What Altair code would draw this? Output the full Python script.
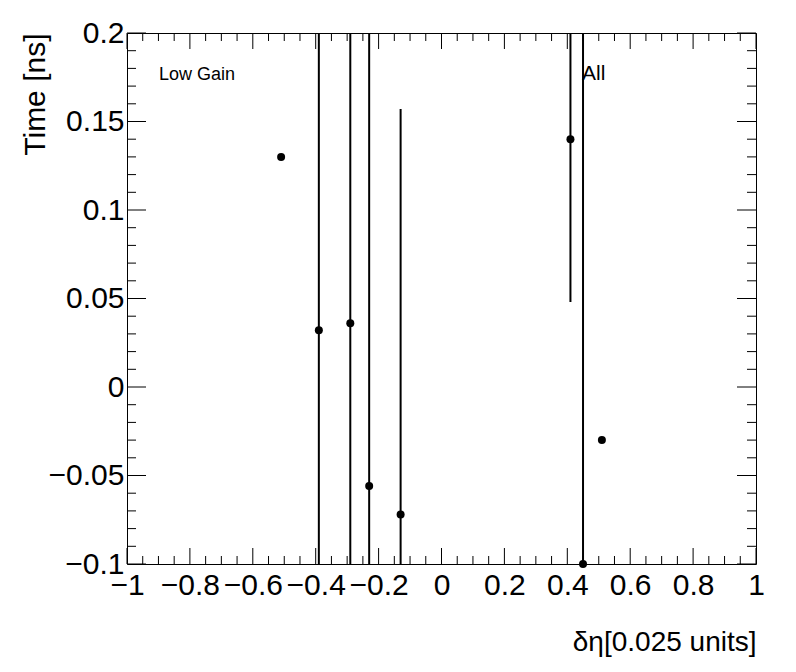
import altair as alt
import numpy as np
import pandas as pd

# ---- data ----
x_vals = [-0.51, -0.39, -0.29, -0.23, -0.13, 0.41, 0.45, 0.51]
y_vals = [0.130, 0.032, 0.036, -0.056, -0.072, 0.140, -0.100, -0.030]
y_err = [0.0, 0.5, 0.5, 0.5, 0.229, 0.092, 0.5, 0.0]

x_major = [-1.0, -0.8, -0.6, -0.4, -0.2, 0.0, 0.2, 0.4, 0.6, 0.8, 1.0]
y_major = [-0.1, -0.05, 0.0, 0.05, 0.1, 0.15, 0.2]
x_minor = [round(v, 3) for v in np.arange(-1.0, 1.0001, 0.05)
           if min(abs(v - m) for m in x_major) > 1e-6]
y_minor = [round(v, 3) for v in np.arange(-0.1, 0.2001, 0.01)
           if min(abs(v - m) for m in y_major) > 1e-6]

label_text = ["Low Gain", "All"]
label_x = [-0.898, 0.447]
label_y = [0.1734, 0.1734]
label_size = [18, 21]

W, H = 629, 531
FONT = "Liberation Sans"

df = pd.DataFrame({"x": x_vals, "y": y_vals, "err": y_err})
df["lo"] = df["y"] - df["err"]
df["hi"] = df["y"] + df["err"]
df_bars = df[df["err"] > 0]

xscale = alt.Scale(domain=[-1, 1], nice=False, zero=False)
yscale = alt.Scale(domain=[-0.1, 0.2], nice=False, zero=False)

xaxis = alt.Axis(values=x_major, format=".1~f", ticks=False, domain=False, grid=False,
                 labelFontSize=30, labelFont=FONT, labelColor="black",
                 labelPadding=6, labelFlush=False, labelOverlap=False, labelBound=False,
                 title="δη[0.025 units]", titleFont=FONT, titleFontSize=28,
                 titleFontWeight="normal", titleColor="black",
                 titleX=W, titleY=86, titleAlign="right", titleBaseline="alphabetic")
yaxis = alt.Axis(values=y_major, format=".2~f", ticks=False, domain=False, grid=False,
                 labelFontSize=30, labelFont=FONT, labelColor="black",
                 labelPadding=3, labelFlush=False, labelOverlap=False, labelBound=False,
                 title="Time [ns]", titleFont=FONT, titleFontSize=30,
                 titleFontWeight="normal", titleColor="black",
                 titleX=-83, titleY=0, titleAlign="right", titleBaseline="alphabetic",
                 titleAngle=-90)

X = lambda f: alt.X(f"{f}:Q", scale=xscale, axis=xaxis)
Y = lambda f: alt.Y(f"{f}:Q", scale=yscale, axis=yaxis)

bars = alt.Chart(df_bars).mark_rule(color="black", strokeWidth=2, clip=True).encode(
    x=X("x"), y=Y("lo"), y2="hi")
pts = alt.Chart(df).mark_circle(color="black", size=64, opacity=1).encode(
    x=X("x"), y=Y("y"))

labels = alt.Chart(pd.DataFrame({"t": label_text, "x": label_x, "y": label_y, "s": label_size})
                   ).mark_text(align="left", baseline="alphabetic", font=FONT, color="black").encode(
    x=X("x"), y=Y("y"), text="t:N", size=alt.Size("s:Q", scale=None, legend=None))

def xticks(vals, length):
    d = pd.DataFrame({"t": vals})
    bot = alt.Chart(d).mark_rule(color="black", strokeWidth=1).encode(
        x=X("t"), y=alt.value(H), y2=alt.value(H - length))
    top = alt.Chart(d).mark_rule(color="black", strokeWidth=1).encode(
        x=X("t"), y=alt.value(0), y2=alt.value(length))
    return [bot, top]

def yticks(vals, length):
    d = pd.DataFrame({"t": vals})
    left = alt.Chart(d).mark_rule(color="black", strokeWidth=1).encode(
        y=Y("t"), x=alt.value(0), x2=alt.value(length))
    right = alt.Chart(d).mark_rule(color="black", strokeWidth=1).encode(
        y=Y("t"), x=alt.value(W), x2=alt.value(W - length))
    return [left, right]

layers = (xticks(x_major, 16) + xticks(x_minor, 8) + yticks(y_major, 19) + yticks(y_minor, 9)
          + [bars, pts, labels])

chart = alt.layer(*layers).properties(
    width=W, height=H, autosize="none",
    padding={"left": 119, "top": 25, "right": 32, "bottom": 100},
    background="white",
).configure_view(stroke="black", strokeWidth=1)

chart.save("out.html", embed_options={"renderer": "svg", "actions": False})
